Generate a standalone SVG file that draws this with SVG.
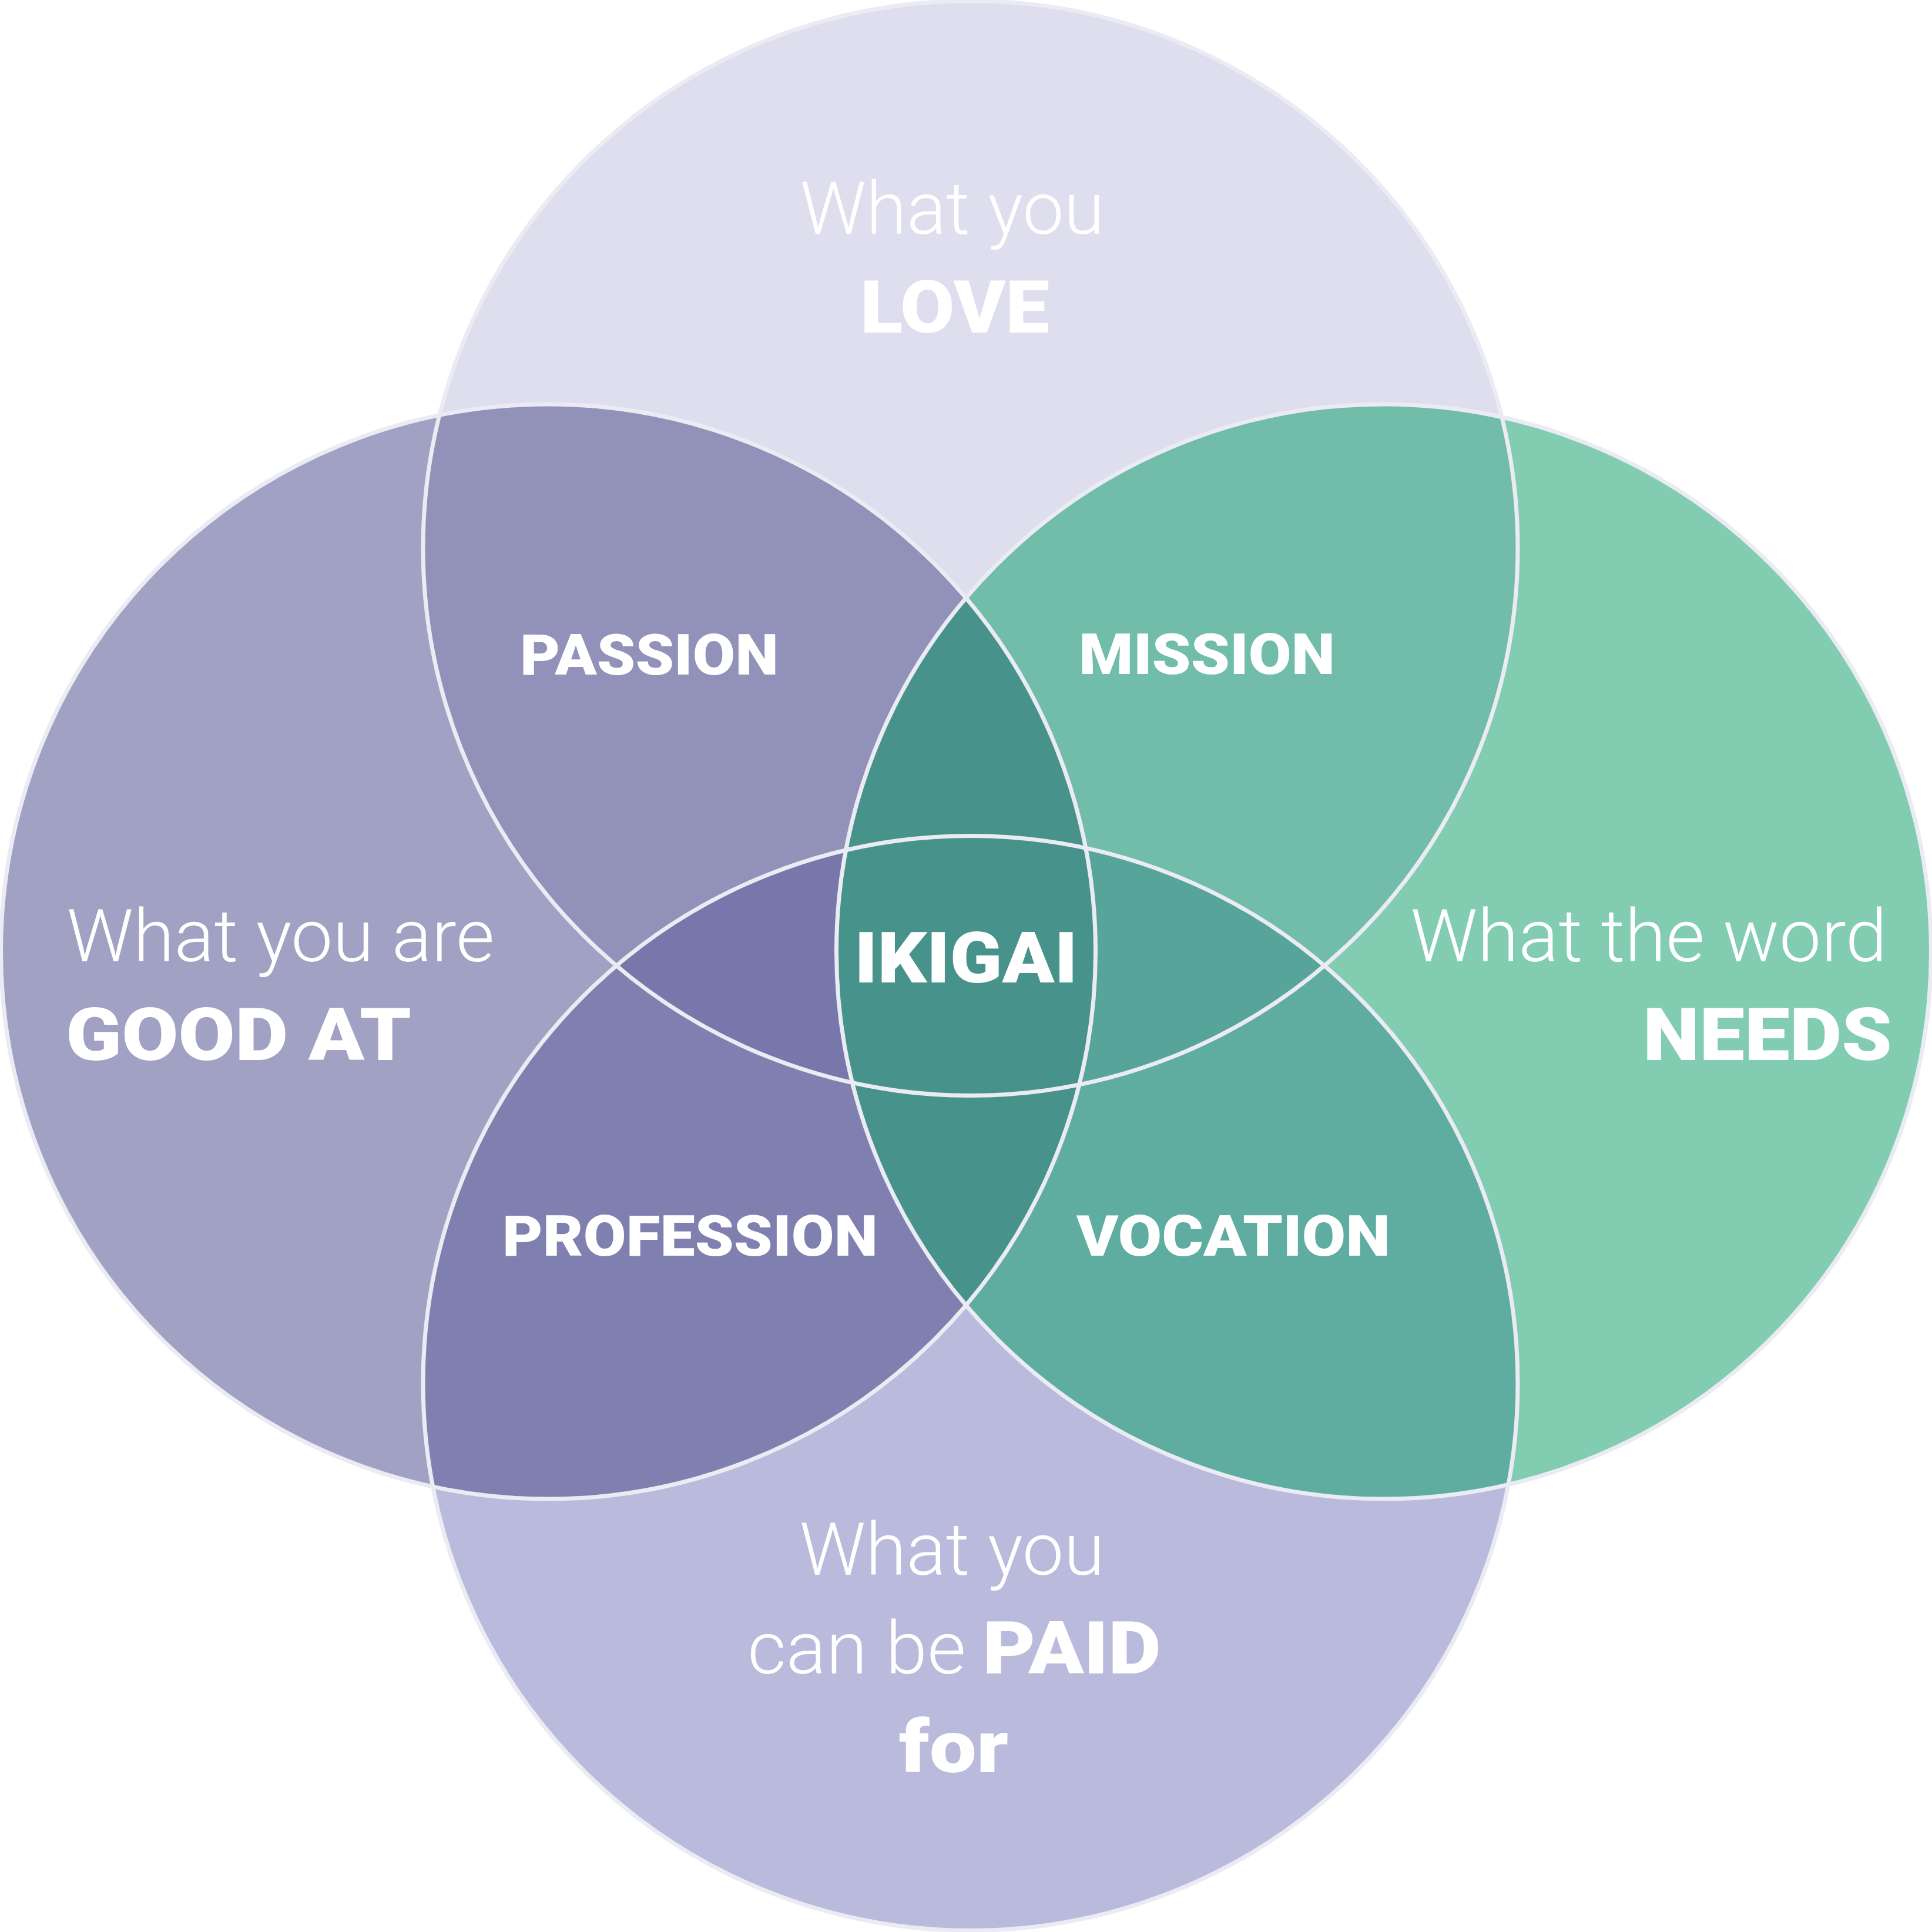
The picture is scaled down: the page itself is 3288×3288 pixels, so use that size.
<svg xmlns="http://www.w3.org/2000/svg" xmlns:xlink="http://www.w3.org/1999/xlink" width="3288" height="3288" viewBox="0 0 3288 3288">
  <style>
    .outline { fill: none; stroke: #EBEBF4; stroke-width: 7; }
    .light { font-family: Roboto, "Liberation Sans", sans-serif; font-weight: 300; font-size: 124px; fill: #FFFFFF; text-anchor: middle; }
    .heavy { font-family: Roboto, "Liberation Sans", sans-serif; font-weight: 900; font-size: 124px; fill: #FFFFFF; text-anchor: middle; }
    .mid { font-family: Roboto, "Liberation Sans", sans-serif; font-weight: 900; font-size: 96px; fill: #FFFFFF; text-anchor: middle; }
  </style>
  <defs>
    <circle id="cT" cx="1651.5" cy="933" r="931.5"/>
    <circle id="cB" cx="1651.5" cy="2354" r="931.5"/>
    <circle id="cL" cx="933" cy="1619.5" r="931.5"/>
    <circle id="cR" cx="2355" cy="1619.5" r="931.5"/>
    <clipPath id="clipT"><use xlink:href="#cT"/></clipPath>
    <clipPath id="clipB"><use xlink:href="#cB"/></clipPath>
    <clipPath id="clipL"><use xlink:href="#cL"/></clipPath>
    <clipPath id="clipR"><use xlink:href="#cR"/></clipPath>
  </defs>
  <rect width="3288" height="3288" fill="#FFFFFF"/>

  <g id="circle-love"><use xlink:href="#cT" fill="#DEDEEE"/></g>
  <g id="circle-good-at"><use xlink:href="#cL" fill="#A1A1C3"/></g>
  <g id="circle-needs"><use xlink:href="#cR" fill="#82CDB2"/></g>
  <g id="circle-paid"><use xlink:href="#cB" fill="#BABADC"/></g>

  <g id="overlaps">
    <g id="passion-area" clip-path="url(#clipT)"><use xlink:href="#cL" fill="#9191B9"/></g>
    <g id="mission-area" clip-path="url(#clipT)"><use xlink:href="#cR" fill="#71BDA9"/></g>
    <g id="profession-area" clip-path="url(#clipB)"><use xlink:href="#cL" fill="#8080B0"/></g>
    <g id="vocation-area" clip-path="url(#clipB)"><use xlink:href="#cR" fill="#5FADA0"/></g>
    <g clip-path="url(#clipT)"><g clip-path="url(#clipB)"><use xlink:href="#cL" fill="#7777AC"/></g></g>
    <g clip-path="url(#clipT)"><g clip-path="url(#clipB)"><use xlink:href="#cR" fill="#56A49A"/></g></g>
    <g id="ikigai-area" clip-path="url(#clipL)"><use xlink:href="#cR" fill="#47938B"/></g>
  </g>

  <g id="outlines">
    <use xlink:href="#cT" class="outline"/>
    <use xlink:href="#cL" class="outline"/>
    <use xlink:href="#cR" class="outline"/>
    <use xlink:href="#cB" class="outline"/>
  </g>

  <g id="label-love">
    <text class="light" x="1620.5" y="398" textLength="518" lengthAdjust="spacingAndGlyphs">What you</text>
    <text class="heavy" x="1625" y="566" textLength="322" lengthAdjust="spacingAndGlyphs">LOVE</text>
  </g>
  <g id="label-good-at">
    <text class="light" x="477.5" y="1636" textLength="728" lengthAdjust="spacingAndGlyphs">What you are</text>
    <text class="heavy" x="406" y="1804" textLength="588" lengthAdjust="spacingAndGlyphs">GOOD AT</text>
  </g>
  <g id="label-needs">
    <text class="light" x="2806" y="1636" textLength="811" lengthAdjust="spacingAndGlyphs">What the word</text>
    <text class="heavy" x="3008" y="1804" textLength="424" lengthAdjust="spacingAndGlyphs">NEEDS</text>
  </g>
  <g id="label-paid">
    <text class="light" x="1620" y="2680" textLength="519" lengthAdjust="spacingAndGlyphs">What you</text>
    <text class="light" x="1458" y="2848" textLength="372" lengthAdjust="spacingAndGlyphs">can be</text>
    <text class="heavy" x="1824" y="2848" textLength="303" lengthAdjust="spacingAndGlyphs">PAID</text>
    <text class="heavy" x="1623" y="3016" textLength="186" lengthAdjust="spacingAndGlyphs">for</text>
  </g>
  <g id="label-passion"><text class="mid" x="1105" y="1148" textLength="440" lengthAdjust="spacingAndGlyphs">PASSION</text></g>
  <g id="label-mission"><text class="mid" x="2054" y="1147" textLength="436" lengthAdjust="spacingAndGlyphs">MISSION</text></g>
  <g id="label-ikigai"><text class="mid" x="1644" y="1672" style="font-size:120px" textLength="380" lengthAdjust="spacingAndGlyphs">IKIGAI</text></g>
  <g id="label-profession"><text class="mid" x="1174.5" y="2137" textLength="639" lengthAdjust="spacingAndGlyphs">PROFESSION</text></g>
  <g id="label-vocation"><text class="mid" x="2099" y="2137" textLength="534" lengthAdjust="spacingAndGlyphs">VOCATION</text></g>
</svg>
